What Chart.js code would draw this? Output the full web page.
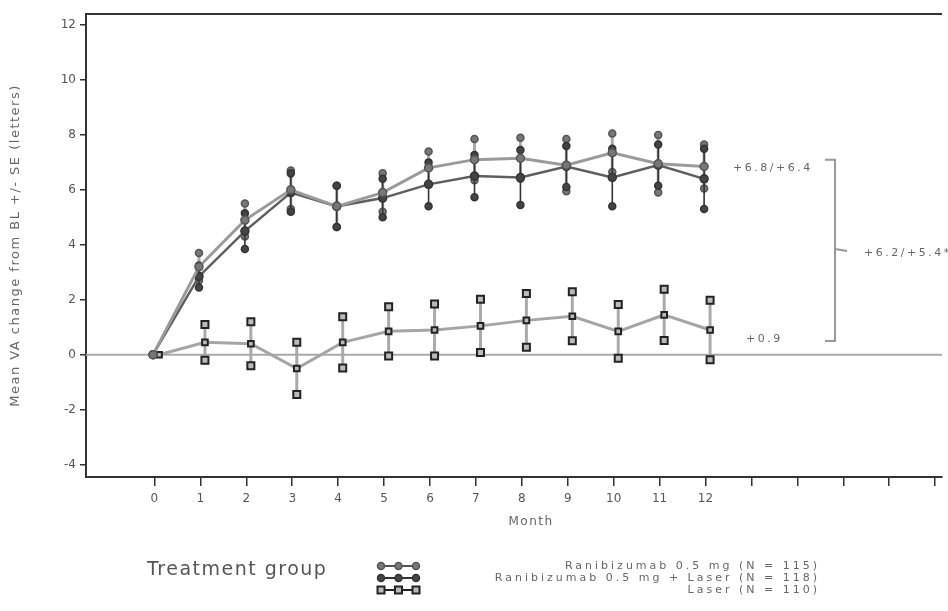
<!DOCTYPE html>
<html>
<head>
<meta charset="utf-8">
<title>Mean VA change from BL</title>
<script src="https://cdn.jsdelivr.net/npm/chart.js@4.4.1/dist/chart.umd.min.js"></script>
<style>
    html, body { margin: 0; padding: 0; background: #fff; }
    #wrap { width: 948px; height: 611px; position: relative; }
</style>
</head>
<body>
<div id="wrap"><canvas id="vaChart" width="948" height="611"></canvas></div>
<script>
// --- Data ---
const months = [0, 1, 2, 3, 4, 5, 6, 7, 8, 9, 10, 11, 12];
const ranibMean = [0, 3.2, 4.9, 6.0, 5.4, 5.9, 6.8, 7.1, 7.15, 6.9, 7.35, 6.95, 6.85];
const ranibSE = [0, 0.5, 0.6, 0.7, 0.75, 0.7, 0.6, 0.75, 0.75, 0.95, 0.7, 1.05, 0.8];
const ranibLaserMean = [0, 2.85, 4.5, 5.9, 5.4, 5.7, 6.2, 6.5, 6.45, 6.85, 6.45, 6.9, 6.4];
const ranibLaserSE = [0, 0.4, 0.65, 0.7, 0.75, 0.7, 0.8, 0.77, 1.0, 0.75, 1.05, 0.75, 1.1];
const laserMean = [0, 0.45, 0.4, -0.5, 0.45, 0.85, 0.9, 1.05, 1.25, 1.4, 0.85, 1.45, 0.9];
const laserSE = [0, 0.65, 0.8, 0.95, 0.93, 0.9, 0.95, 0.97, 0.98, 0.89, 0.98, 0.93, 1.08];

const seriesNames = ['Ranibizumab 0.5 mg (N = 115)', 'Ranibizumab 0.5 mg + Laser (N = 118)', 'Laser (N = 110)'];
const yTicks = [-4, -2, 0, 2, 4, 6, 8, 10, 12];
const xTickMonths = [0, 1, 2, 3, 4, 5, 6, 7, 8, 9, 10, 11, 12, 13, 14, 15, 16, 17];
const endLabels = ['+6.8/+6.4', '+0.9', '+6.2/+5.4*'];

const FONT = 'DejaVu Sans, Liberation Sans, sans-serif';
const TEXT = '#555';

function toPoints(means, offset) {
    return months.map((m, i) => ({ x: m + offset, y: means[i] }));
}

const datasets = [
    {
        label: seriesNames[0],
        data: toPoints(ranibMean, -0.03),
        se: ranibSE,
        borderColor: '#9a9a9a',
        borderWidth: 3,
        pointStyle: 'circle',
        pointRadius: 4,
        pointBackgroundColor: '#777',
        pointBorderColor: '#555',
        pointBorderWidth: 1.5,
        barColor: '#aaa',
        barWidth: 3
    },
    {
        label: seriesNames[1],
        data: toPoints(ranibLaserMean, -0.03),
        se: ranibLaserSE,
        borderColor: '#5e5e5e',
        borderWidth: 2.5,
        pointStyle: 'circle',
        pointRadius: 4,
        pointBackgroundColor: '#444',
        pointBorderColor: '#333',
        pointBorderWidth: 1.5,
        barColor: '#333',
        barWidth: 1.6
    },
    {
        label: seriesNames[2],
        data: toPoints(laserMean, 0.1),
        se: laserSE,
        borderColor: '#a5a5a5',
        borderWidth: 3,
        pointStyle: 'rect',
        pointRadius: 4,
        pointBackgroundColor: '#bbb',
        pointBorderColor: '#222',
        pointBorderWidth: 2,
        barColor: '#aaa',
        barWidth: 3
    }
];

function drawMarker(ctx, ds, x, y, r) {
    ctx.save();
    ctx.fillStyle = ds.pointBackgroundColor;
    ctx.strokeStyle = ds.pointBorderColor;
    ctx.lineWidth = ds.pointBorderWidth;
    ctx.beginPath();
    if (ds.pointStyle === 'rect') {
        ctx.rect(x - r, y - r, 2 * r, 2 * r);
    } else {
        ctx.arc(x, y, r, 0, Math.PI * 2);
    }
    ctx.fill();
    ctx.stroke();
    ctx.restore();
}

function spacedText(ctx, str, x, y, spacing) {
    ctx.letterSpacing = spacing;
    ctx.fillText(str, x, y);
    ctx.letterSpacing = '0px';
}

// error bars + zero reference line, drawn under the lines
const errorBarPlugin = {
    id: 'errorBars',
    beforeDatasetsDraw(chart) {
        const { ctx, chartArea, scales: { x, y } } = chart;
        ctx.save();
        // zero line
        ctx.strokeStyle = '#a8a8a8';
        ctx.lineWidth = 2;
        ctx.beginPath();
        ctx.moveTo(chartArea.left, y.getPixelForValue(0));
        ctx.lineTo(chartArea.right, y.getPixelForValue(0));
        ctx.stroke();
        // top frame line
        ctx.strokeStyle = '#333';
        ctx.lineWidth = 2;
        ctx.beginPath();
        ctx.moveTo(chartArea.left, chartArea.top);
        ctx.lineTo(chartArea.right, chartArea.top);
        ctx.stroke();

        chart.data.datasets.forEach(ds => {
            ds.data.forEach((pt, i) => {
                const se = ds.se[i];
                if (!se) return;
                const px = x.getPixelForValue(pt.x);
                const hi = y.getPixelForValue(pt.y + se);
                const lo = y.getPixelForValue(pt.y - se);
                ctx.strokeStyle = ds.barColor;
                ctx.lineWidth = ds.barWidth;
                ctx.beginPath();
                ctx.moveTo(px, hi);
                ctx.lineTo(px, lo);
                ctx.stroke();
                drawMarker(ctx, ds, px, hi, 3.5);
                drawMarker(ctx, ds, px, lo, 3.5);
            });
        });
        ctx.restore();
    }
};

// titles, end labels, bracket, legend
const decorPlugin = {
    id: 'decor',
    afterDraw(chart) {
        const { ctx, chartArea, scales: { x, y } } = chart;
        ctx.save();
        ctx.fillStyle = '#666';

        // y axis title
        ctx.save();
        ctx.translate(16, (chartArea.top + chartArea.bottom) / 2);
        ctx.rotate(-Math.PI / 2);
        ctx.font = '13px ' + FONT;
        ctx.textAlign = 'center';
        ctx.textBaseline = 'middle';
        spacedText(ctx, 'Mean VA change from BL +/- SE (letters)', 0, 0, '1.5px');
        ctx.restore();

        // x axis title
        ctx.font = '12px ' + FONT;
        ctx.textAlign = 'center';
        ctx.textBaseline = 'middle';
        spacedText(ctx, 'Month', x.getPixelForValue(8.2), 522, '1.5px');

        // end-of-study labels
        ctx.font = '11px ' + FONT;
        ctx.textAlign = 'left';
        spacedText(ctx, endLabels[0], 733, y.getPixelForValue(6.8), '2.5px');
        spacedText(ctx, endLabels[1], 746, y.getPixelForValue(0.55), '2.5px');
        spacedText(ctx, endLabels[2], 864, y.getPixelForValue(3.7), '2.5px');

        // bracket
        const bx = 835;
        const bTop = y.getPixelForValue(7.1);
        const bBot = y.getPixelForValue(0.5);
        const bMid = y.getPixelForValue(3.85);
        ctx.strokeStyle = '#999';
        ctx.lineWidth = 2;
        ctx.beginPath();
        ctx.moveTo(825, bTop);
        ctx.lineTo(bx, bTop);
        ctx.lineTo(bx, bBot);
        ctx.lineTo(825, bBot);
        ctx.moveTo(bx, bMid);
        ctx.lineTo(847, bMid + 2);
        ctx.stroke();

        // legend
        ctx.fillStyle = '#555';
        ctx.font = '19px ' + FONT;
        ctx.textAlign = 'left';
        spacedText(ctx, 'Treatment group', 147, 570, '1.5px');

        const rows = [566, 578, 590];
        ctx.font = '11px ' + FONT;
        ctx.textAlign = 'right';
        chart.data.datasets.forEach((ds, i) => {
            const ry = rows[i];
            ctx.strokeStyle = ds.pointBorderColor;
            ctx.lineWidth = 2;
            ctx.beginPath();
            ctx.moveTo(381, ry);
            ctx.lineTo(416, ry);
            ctx.stroke();
            [381, 398.5, 416].forEach(mx => drawMarker(ctx, ds, mx, ry, 3.5));
            ctx.fillStyle = '#666';
            spacedText(ctx, ds.label, 820, ry, '3px');
        });
        ctx.restore();
    }
};

const vaChart = new Chart(document.getElementById('vaChart').getContext('2d'), {
    type: 'line',
    data: { datasets: datasets },
    options: {
        responsive: false,
        animation: false,
        devicePixelRatio: 1,
        layout: { padding: { top: 14, right: 0, left: 0, bottom: 0 } },
        plugins: {
            legend: { display: false },
            tooltip: { enabled: false }
        },
        elements: { line: { tension: 0 } },
        scales: {
            x: {
                type: 'linear',
                min: -1.49,
                max: 17.15,
                afterBuildTicks: scale => {
                    scale.ticks = xTickMonths.map(v => ({ value: v }));
                },
                afterFit: scale => { scale.height = 134; },
                ticks: {
                    autoSkip: false,
                    maxRotation: 0,
                    padding: 6,
                    color: TEXT,
                    font: { family: FONT, size: 12 },
                    callback: value => (value >= 0 && value <= 12) ? String(value) : ''
                },
                grid: {
                    drawOnChartArea: false,
                    drawTicks: true,
                    tickLength: 9,
                    tickColor: '#333',
                    lineWidth: 1.5
                },
                border: { color: '#333', width: 2 }
            },
            y: {
                min: -4.45,
                max: 12.4,
                afterBuildTicks: scale => {
                    scale.ticks = yTicks.map(v => ({ value: v }));
                },
                afterFit: scale => { scale.width = 86; },
                ticks: {
                    padding: 4,
                    color: TEXT,
                    font: { family: FONT, size: 12 }
                },
                grid: {
                    drawOnChartArea: false,
                    drawTicks: true,
                    tickLength: 6,
                    tickColor: '#333',
                    lineWidth: 1.5
                },
                border: { color: '#333', width: 2 }
            }
        }
    },
    plugins: [errorBarPlugin, decorPlugin]
});
</script>
</body>
</html>
